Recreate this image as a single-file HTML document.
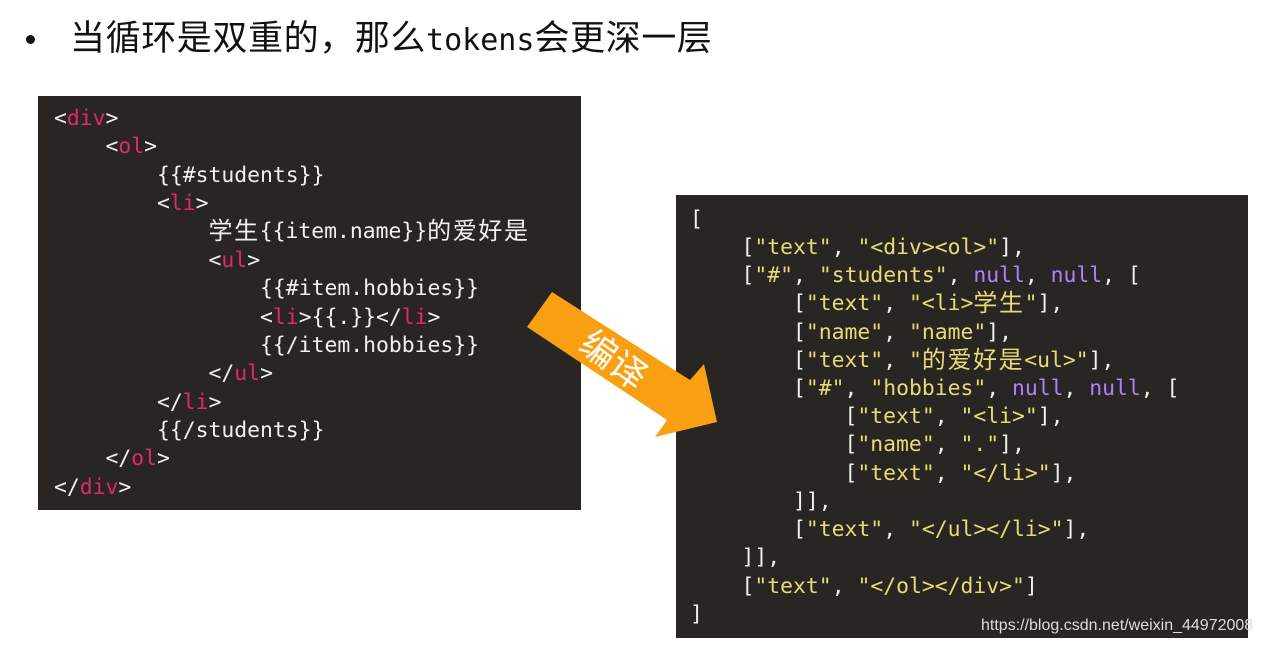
<!DOCTYPE html>
<html><head><meta charset="utf-8"><style>
body{margin:0;width:1262px;height:646px;background:#fff;position:relative;overflow:hidden;font-family:"Liberation Sans","Noto Sans CJK SC",sans-serif}
.t{position:absolute;left:70px;top:16px;font-size:35px;letter-spacing:0.6px;color:#111;white-space:nowrap;line-height:46px}
.t .tk{font-family:"DejaVu Sans Mono",monospace;font-size:30px;letter-spacing:0}
.dot{position:absolute;left:26px;top:35px;width:9px;height:9px;border-radius:50%;background:#111}
.box{position:absolute;background:#282523}
.l{position:absolute;font-family:"DejaVu Sans Mono",monospace;font-size:21.4px;color:#f0f0f0;white-space:pre;line-height:28px;height:28px;margin-top:2px}
.p{color:#e0286e}.y{color:#e6db74}.n{color:#ae81ff}
.c{font-family:"Noto Sans CJK SC",sans-serif;font-size:24px;letter-spacing:1.6px;line-height:10px;vertical-align:-1px}
.wm{position:absolute;left:981px;top:617px;font-size:16px;color:#ddd;font-family:"Liberation Sans",sans-serif}
</style></head><body>
<div class="dot"></div>
<div class="t">当循环是双重的，那么<span class="tk">tokens</span>会更深一层</div>
<div class="box" style="left:38px;top:96px;width:543px;height:414px"></div>
<div class="box" style="left:676px;top:195px;width:572px;height:443px"></div>
<div class="l" style="left:54px;top:103px">&lt;<span class="p">div</span>&gt;</div>
<div class="l" style="left:54px;top:131px">    &lt;<span class="p">ol</span>&gt;</div>
<div class="l" style="left:54px;top:160px">        {{#students}}</div>
<div class="l" style="left:54px;top:188px">        &lt;<span class="p">li</span>&gt;</div>
<div class="l" style="left:54px;top:216px">            <span class="c">学生</span>{{item.name}}<span class="c">的爱好是</span></div>
<div class="l" style="left:54px;top:245px">            &lt;<span class="p">ul</span>&gt;</div>
<div class="l" style="left:54px;top:273px">                {{#item.hobbies}}</div>
<div class="l" style="left:54px;top:302px">                &lt;<span class="p">li</span>&gt;{{.}}&lt;/<span class="p">li</span>&gt;</div>
<div class="l" style="left:54px;top:330px">                {{/item.hobbies}}</div>
<div class="l" style="left:54px;top:358px">            &lt;/<span class="p">ul</span>&gt;</div>
<div class="l" style="left:54px;top:387px">        &lt;/<span class="p">li</span>&gt;</div>
<div class="l" style="left:54px;top:415px">        {{/students}}</div>
<div class="l" style="left:54px;top:443px">    &lt;/<span class="p">ol</span>&gt;</div>
<div class="l" style="left:54px;top:472px">&lt;/<span class="p">div</span>&gt;</div>

<div class="l" style="left:690px;top:204px">[</div>
<div class="l" style="left:690px;top:232px">    [<span class="y">"text"</span>, <span class="y">"&lt;div&gt;&lt;ol&gt;"</span>],</div>
<div class="l" style="left:690px;top:260px">    [<span class="y">"#"</span>, <span class="y">"students"</span>, <span class="n">null</span>, <span class="n">null</span>, [</div>
<div class="l" style="left:690px;top:288px">        [<span class="y">"text"</span>, <span class="y">"&lt;li&gt;<span class="c">学生</span>"</span>],</div>
<div class="l" style="left:690px;top:317px">        [<span class="y">"name"</span>, <span class="y">"name"</span>],</div>
<div class="l" style="left:690px;top:345px">        [<span class="y">"text"</span>, <span class="y">"<span class="c">的爱好是</span>&lt;ul&gt;"</span>],</div>
<div class="l" style="left:690px;top:373px">        [<span class="y">"#"</span>, <span class="y">"hobbies"</span>, <span class="n">null</span>, <span class="n">null</span>, [</div>
<div class="l" style="left:690px;top:401px">            [<span class="y">"text"</span>, <span class="y">"&lt;li&gt;"</span>],</div>
<div class="l" style="left:690px;top:429px">            [<span class="y">"name"</span>, <span class="y">"."</span>],</div>
<div class="l" style="left:690px;top:458px">            [<span class="y">"text"</span>, <span class="y">"&lt;/li&gt;"</span>],</div>
<div class="l" style="left:690px;top:486px">        ]],</div>
<div class="l" style="left:690px;top:514px">        [<span class="y">"text"</span>, <span class="y">"&lt;/ul&gt;&lt;/li&gt;"</span>],</div>
<div class="l" style="left:690px;top:542px">    ]],</div>
<div class="l" style="left:690px;top:571px">    [<span class="y">"text"</span>, <span class="y">"&lt;/ol&gt;&lt;/div&gt;"</span>]</div>
<div class="l" style="left:690px;top:599px">]</div>
<div class="wm">https://blog.csdn.net/weixin_44972008</div>

<svg style="position:absolute;left:0;top:0" width="1262" height="646">
<polygon points="552,292 690,380 704,364 717,422 655,437 667,420 527,327" fill="#f9a012"/>
<text x="612" y="372" font-family="Noto Sans CJK SC,sans-serif" font-size="36" fill="#fff" text-anchor="middle" transform="rotate(36 612 362)">编译</text>
</svg>
</body></html>
